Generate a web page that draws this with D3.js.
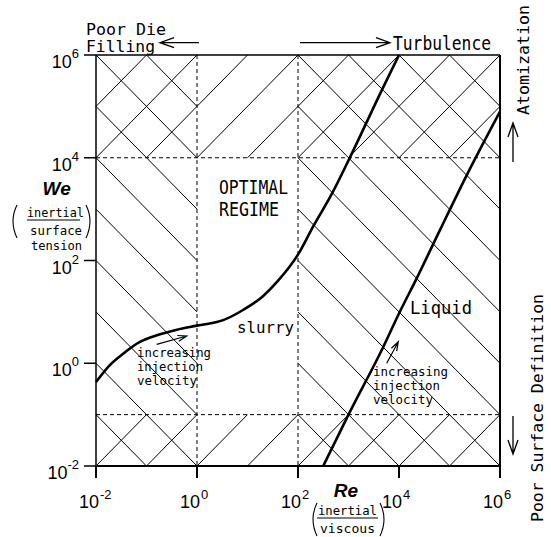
<!DOCTYPE html>
<html>
<head>
<meta charset="utf-8">
<script src="https://cdn.jsdelivr.net/npm/d3@7"></script>
<style>
  html, body { margin: 0; padding: 0; background: #fff; }
  svg { display: block; }
  .mono { font-family: "DejaVu Sans Mono", "Liberation Mono", monospace; fill: #000; }
  .tick { font-family: "Liberation Sans", Arial, sans-serif; fill: #000; }
</style>
</head>
<body>
<svg id="chart" width="551" height="537"></svg>
<script>
// Axis ticks (Reynolds number on x, Weber number on y)
const reTicks = [1e-2, 1e0, 1e2, 1e4, 1e6];
const weTicks = [1e-2, 1e0, 1e2, 1e4, 1e6];
const tickExp = ["-2", "0", "2", "4", "6"];

// Regime boundaries (dashed lines)
const reBounds = [1, 100];
const weBounds = [0.1, 1e4];

// Hatched zones: "\" hatch over Re ranges, "/" hatch over We ranges
const backHatchRe = [[1e-2, 1], [100, 1e6]];
const fwdHatchWe = [[1e4, 1e6], [1e-2, 0.1]];

// Slurry curve
const slurryRe = [0.01, 0.019, 0.035, 0.074, 0.16, 0.4, 1, 3.3, 8.3, 20, 40, 100, 200, 470, 1070, 4600, 1e4];
const slurryWe = [0.43, 0.93, 1.55, 2.6, 3.5, 4.5, 5.4, 6.9, 11, 20, 40, 130, 460, 2000, 10200, 210000, 1e6];

// Liquid curve
const liquidRe = [316, 1000, 4900, 1e4, 22400, 64600, 220000, 1e6];
const liquidWe = [0.01, 0.1, 2.1, 9.3, 45, 390, 4600, 79000];

const svg = d3.select("#chart");
const x = d3.scaleLog().domain([1e-2, 1e6]).range([96, 500]);
const y = d3.scaleLog().domain([1e-2, 1e6]).range([466, 55]);
const lx = x.domain().map(Math.log10);
const ly = y.domain().map(Math.log10);

// ---- hatching ----
const hatch = svg.append("g").attr("stroke", "#000").attr("stroke-width", 1).attr("fill", "none");
const eps = 1e-9;
backHatchRe.forEach(([a, b]) => {
  const x0 = Math.log10(a), x1 = Math.log10(b), y0 = ly[0], y1 = ly[1];
  for (let k = Math.ceil(x0 + y0 - eps); k <= Math.floor(x1 + y1 + eps); k++) {
    const xa = Math.max(x0, k - y1), xb = Math.min(x1, k - y0);
    if (xb - xa > eps) {
      hatch.append("line")
        .attr("x1", x(10 ** xa)).attr("y1", y(10 ** (k - xa)))
        .attr("x2", x(10 ** xb)).attr("y2", y(10 ** (k - xb)));
    }
  }
});
fwdHatchWe.forEach(([a, b]) => {
  const y0 = Math.log10(a), y1 = Math.log10(b), x0 = lx[0], x1 = lx[1];
  for (let k = Math.ceil(y0 - x1 - eps); k <= Math.floor(y1 - x0 + eps); k++) {
    const xa = Math.max(x0, y0 - k), xb = Math.min(x1, y1 - k);
    if (xb - xa > eps) {
      hatch.append("line")
        .attr("x1", x(10 ** xa)).attr("y1", y(10 ** (xa + k)))
        .attr("x2", x(10 ** xb)).attr("y2", y(10 ** (xb + k)));
    }
  }
});

// ---- dashed regime boundaries ----
const grid = svg.append("g").attr("stroke", "#000").attr("stroke-width", 1).attr("stroke-dasharray", "4,3");
reBounds.forEach(v => grid.append("line").attr("x1", x(v)).attr("x2", x(v)).attr("y1", y(1e6)).attr("y2", y(1e-2)));
weBounds.forEach(v => grid.append("line").attr("y1", y(v)).attr("y2", y(v)).attr("x1", x(1e-2)).attr("x2", x(1e6)));

// ---- frame and ticks ----
const frame = svg.append("g").attr("stroke", "#000").attr("fill", "none");
frame.append("line").attr("x1", x(1e-2)).attr("x2", x(1e6)).attr("y1", y(1e6)).attr("y2", y(1e6)).attr("stroke-width", 1.5);
frame.append("line").attr("x1", x(1e-2)).attr("x2", x(1e6)).attr("y1", y(1e-2)).attr("y2", y(1e-2)).attr("stroke-width", 2);
frame.append("line").attr("x1", x(1e-2)).attr("x2", x(1e-2)).attr("y1", y(1e6)).attr("y2", y(1e-2)).attr("stroke-width", 1.5);
frame.append("line").attr("x1", x(1e6)).attr("x2", x(1e6)).attr("y1", y(1e6)).attr("y2", y(1e-2)).attr("stroke-width", 2);

reTicks.forEach((v, i) => {
  frame.append("line").attr("x1", x(v)).attr("x2", x(v)).attr("y1", y(1e-2)).attr("y2", y(1e-2) + 12).attr("stroke-width", 2);
  svg.append("text").attr("class", "tick").attr("x", x(v) + 3).attr("y", y(1e-2) + 42)
    .attr("text-anchor", "end").attr("font-size", 18).text("10");
  svg.append("text").attr("class", "tick").attr("x", x(v) + 4).attr("y", y(1e-2) + 33)
    .attr("font-size", 13).text(tickExp[i]);
});
weTicks.forEach((v, i) => {
  frame.append("line").attr("x1", x(1e-2) - 12).attr("x2", x(1e-2)).attr("y1", y(v)).attr("y2", y(v)).attr("stroke-width", 1.5);
  const t = svg.append("text").attr("class", "tick").attr("x", 79).attr("y", y(v) + 13)
    .attr("text-anchor", "end").attr("font-size", 18);
  t.append("tspan").text("10");
  t.append("tspan").attr("dy", -10).attr("font-size", 13).text(tickExp[i]);
});

// ---- curves ----
const line = d3.line().x(d => x(d[0])).y(d => y(d[1])).curve(d3.curveMonotoneX);
svg.append("path").datum(slurryRe.map((r, i) => [r, slurryWe[i]]))
  .attr("d", line).attr("fill", "none").attr("stroke", "#000").attr("stroke-width", 2.6);
svg.append("path").datum(liquidRe.map((r, i) => [r, liquidWe[i]]))
  .attr("d", line).attr("fill", "none").attr("stroke", "#000").attr("stroke-width", 2.6);

// ---- arrows ----
function arrow(x1, y1, x2, y2, len, half, w) {
  const a = Math.atan2(y2 - y1, x2 - x1);
  const bx = x2 - len * Math.cos(a), by = y2 - len * Math.sin(a);
  const nx = -Math.sin(a) * half, ny = Math.cos(a) * half;
  const p = d3.path();
  p.moveTo(x1, y1); p.lineTo(x2, y2);
  p.moveTo(bx + nx, by + ny); p.lineTo(x2, y2); p.lineTo(bx - nx, by - ny);
  svg.append("path").attr("d", p.toString()).attr("fill", "none")
    .attr("stroke", "#000").attr("stroke-width", w || 1.3);
}
arrow(199, 42.7, 160, 42.7, 14, 5);
arrow(300, 42.7, 390, 42.7, 14, 5);
arrow(513, 162, 513, 123, 14, 5);
arrow(513, 416, 513, 454, 14, 5);
arrow(156.7, 344.3, 186.7, 336, 9, 3, 1.2);
arrow(386.7, 363.3, 398.3, 341.7, 9, 3, 1.2);

// ---- labels ----
function label(txt, xx, yy, size, len, extra) {
  const t = svg.append("text").attr("class", "mono").attr("x", xx).attr("y", yy)
    .attr("font-size", size).text(txt);
  if (len) t.attr("textLength", len).attr("lengthAdjust", "spacingAndGlyphs");
  if (extra) extra(t);
  return t;
}
label("Poor Die", 86, 34.5, 15, 80);
label("Filling", 86, 52, 15, 69);
label("Turbulence", 393, 50, 19, 98);
label("OPTIMAL", 219, 194, 19, 69);
label("REGIME", 219, 216, 19, 60);
label("slurry", 237, 333, 15, 57);
label("Liquid", 410, 314, 18, 62);

label("increasing", 137, 357, 11.5, 74);
label("injection", 137, 371, 11.5, 66);
label("velocity", 137, 385, 11.5, 60);
label("increasing", 373, 376, 11.5, 75);
label("injection", 373, 390, 11.5, 67);
label("velocity", 373, 403.5, 11.5, 60);

label("Atomization", 0, 0, 16, 110, t => t.attr("x", null).attr("y", null)
  .attr("transform", "translate(529,115) rotate(-90)"));
label("Poor Surface Definition", 0, 0, 16, 228, t => t.attr("x", null).attr("y", null)
  .attr("transform", "translate(543,522) rotate(-90)"));

// Axis titles
svg.append("text").attr("x", 56.7).attr("y", 195).attr("text-anchor", "middle")
  .attr("font-family", "Liberation Sans, Arial, sans-serif").attr("font-weight", "bold")
  .attr("font-style", "italic").attr("font-size", 19).text("We");
svg.append("text").attr("x", 346).attr("y", 497).attr("text-anchor", "middle")
  .attr("font-family", "Liberation Sans, Arial, sans-serif").attr("font-weight", "bold")
  .attr("font-style", "italic").attr("font-size", 19).text("Re");

// We = inertial / surface tension
label("inertial", 27, 216.5, 12.5, 57);
label("surface", 30, 234.5, 12.5, 52);
label("tension", 31, 250, 12.5, 51);
// Re = inertial / viscous
label("inertial", 318, 514.5, 12.5, 59);
label("viscous", 320, 533, 12.5, 55);

const deco = svg.append("g").attr("stroke", "#000").attr("fill", "none").attr("stroke-width", 1.1);
deco.append("line").attr("x1", 27).attr("x2", 80).attr("y1", 220).attr("y2", 220);
deco.append("line").attr("x1", 317).attr("x2", 378).attr("y1", 518).attr("y2", 518);
deco.append("path").attr("d", "M17,205 Q9,221 17,238");
deco.append("path").attr("d", "M86,205 Q94,221 86,238");
deco.append("path").attr("d", "M317,503 Q309,519 317,536");
deco.append("path").attr("d", "M380,503 Q388,519 380,536");
</script>
</body>
</html>
